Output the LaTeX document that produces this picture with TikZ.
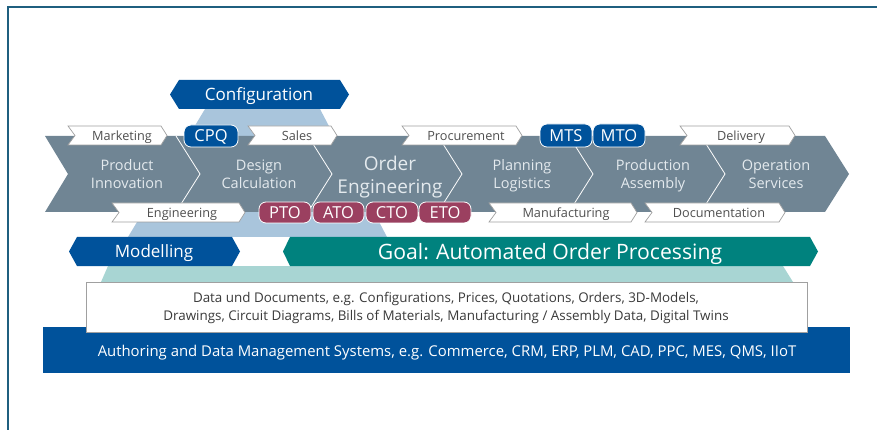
\documentclass[tikz,border=0pt]{standalone}
\usepackage{fontspec}
\setmainfont{Open Sans}
\definecolor{frameblue}{HTML}{1F5F7F}
\definecolor{bandgrey}{HTML}{708594}
\definecolor{lightblue}{HTML}{A9C5DC}
\definecolor{lightteal}{HTML}{A8D5D3}
\definecolor{darkblue}{HTML}{00529B}
\definecolor{tealc}{HTML}{00827E}
\definecolor{wine}{HTML}{9B4060}
\definecolor{tagborder}{HTML}{A0A0A0}
\definecolor{chevtext}{HTML}{E4EAEE}
\definecolor{tagtext}{HTML}{505050}
\definecolor{datatext}{HTML}{3A3A3A}
\newcommand\tagpath[4]{\filldraw[tagshape] (#1,#3) -- ({#2-6},#3) -- (#2,{(#3+#4)/2}) -- ({#2-6},#4) -- (#1,#4) -- ({#1+7},{(#3+#4)/2}) -- cycle;}
\begin{document}
\begin{tikzpicture}[x=1pt,y=-1pt,
  tagshape/.style={fill=white,draw=tagborder,line width=0.7pt},
  tagtxt/.style={inner sep=0pt,text=tagtext,font=\fontsize{12.7}{14}\selectfont,text height=9.1pt,text depth=0pt},
  chevtxt/.style={inner sep=0pt,text=chevtext,align=center,font=\fontsize{14.5}{18}\selectfont,text depth=0pt},
  pill/.style={draw=white,line width=0.8pt,rounded corners=7pt,text=white,inner sep=0pt,
    font=\fontsize{16.5}{18}\selectfont,text height=11.8pt,text depth=0pt},
  arrowtxt/.style={inner sep=0pt,text=white,text depth=0pt},
  sep/.style={white,line width=0.8pt}]
\useasboundingbox (0,0) rectangle (877,430);
% frame
\draw[frameblue,line width=1.5pt] (8,430) -- (8,7) -- (877,7);
% background trapezoids
\fill[lightblue] (205,109) -- (320,109) -- (387,237) -- (128,237) -- cycle;
\fill[lightteal] (108,266) -- (783,266) -- (793,282) -- (101,282) -- cycle;
% grey chevron band
\fill[bandgrey] (45,136) -- (825,136) -- (849,174) -- (825,212) -- (45,212) -- (68,174) -- cycle;
\foreach \t in {200,332,462,593,725}{\draw[sep] ({\t-24},136) -- (\t,174) -- ({\t-24},212);}
% chevron texts
\node[chevtxt] (pi) at (127,174) {Product\\Innovation};
\node[chevtxt] (dc) at (259,174) {Design\\Calculation};
\node[chevtxt,font=\fontsize{19}{23.5}\selectfont] (oe) at (390,175) {Order\\Engineering};
\node[chevtxt] (pl) at (522,174) {Planning\\Logistics};
\node[chevtxt] (pa) at (653,174) {Production\\Assembly};
\node[chevtxt] (os) at (776,174) {Operation\\Services};
% tags
\tagpath{68}{167}{126}{145}
\tagpath{248}{337}{126}{145}
\tagpath{402}{522}{126}{145}
\tagpath{680}{795}{126}{145}
\tagpath{112}{245}{203}{222}
\tagpath{489}{637}{203}{222}
\tagpath{645}{785}{203}{222}
\node[tagtxt] (mk) at (122,135.5) {Marketing};
\node[tagtxt] (sa) at (297,135.5) {Sales};
\node[tagtxt] (pr) at (466,135.5) {Procurement};
\node[tagtxt] (de) at (741,135.5) {Delivery};
\node[tagtxt] (en) at (182,212.5) {Engineering};
\node[tagtxt] (ma) at (566,212.5) {Manufacturing};
\node[tagtxt] (do) at (719,212.5) {Documentation};
% pills
\node[pill,fill=darkblue,minimum width=54pt,minimum height=22pt] (cpq) at (211,136) {CPQ};
\node[pill,fill=darkblue,minimum width=52pt,minimum height=23pt] (mts) at (566,135.5) {MTS};
\node[pill,fill=darkblue,minimum width=52pt,minimum height=23pt] (mto) at (619,135.5) {MTO};
\node[pill,fill=wine,minimum width=52pt,minimum height=21pt] (pto) at (285,212.5) {PTO};
\node[pill,fill=wine,minimum width=51pt,minimum height=21pt] (ato) at (338.5,212.5) {ATO};
\node[pill,fill=wine,minimum width=52pt,minimum height=21pt] (cto) at (392,212.5) {CTO};
\node[pill,fill=wine,minimum width=52pt,minimum height=21pt] (eto) at (445,212.5) {ETO};
% configuration
\fill[darkblue] (170,94.5) -- (179,80) -- (340,80) -- (349,94.5) -- (340,109) -- (179,109) -- cycle;
\node[arrowtxt,font=\fontsize{17}{19}\selectfont,text height=12.2pt] (cf) at (259,94.5) {Configuration};
% modelling & goal
\fill[darkblue] (69,251.5) -- (77,237) -- (232,237) -- (240,251.5) -- (232,266) -- (77,266) -- cycle;
\node[arrowtxt,font=\fontsize{17}{19}\selectfont,text height=12.2pt] (mo) at (154,251.5) {Modelling};
\fill[tealc] (283,251.5) -- (290,237) -- (810,237) -- (818,251.5) -- (810,266) -- (290,266) -- cycle;
\node[arrowtxt,font=\fontsize{21.2}{24}\selectfont,text height=15.2pt] (go) at (550,251.5) {Goal: Automated Order Processing};
% systems bar and data box
\fill[darkblue] (43,327) rectangle (850,373);
\node[arrowtxt,font=\fontsize{14.9}{17}\selectfont,text height=10.7pt] (sys) at (447,351.5) {Authoring and Data Management Systems, e.g. Commerce, CRM, ERP, PLM, CAD, PPC, MES, QMS, IIoT};
\filldraw[fill=white,draw=tagborder,line width=0.8pt] (86,282) rectangle (807,332);
\node[inner sep=0pt,align=center,text=datatext,font=\fontsize{13.4}{18}\selectfont,text depth=0pt] (data) at (446,306) {Data und Documents, e.g. Configurations, Prices, Quotations, Orders, 3D-Models,\\Drawings, Circuit Diagrams, Bills of Materials, Manufacturing / Assembly Data, Digital Twins};
\end{tikzpicture}
\end{document}
